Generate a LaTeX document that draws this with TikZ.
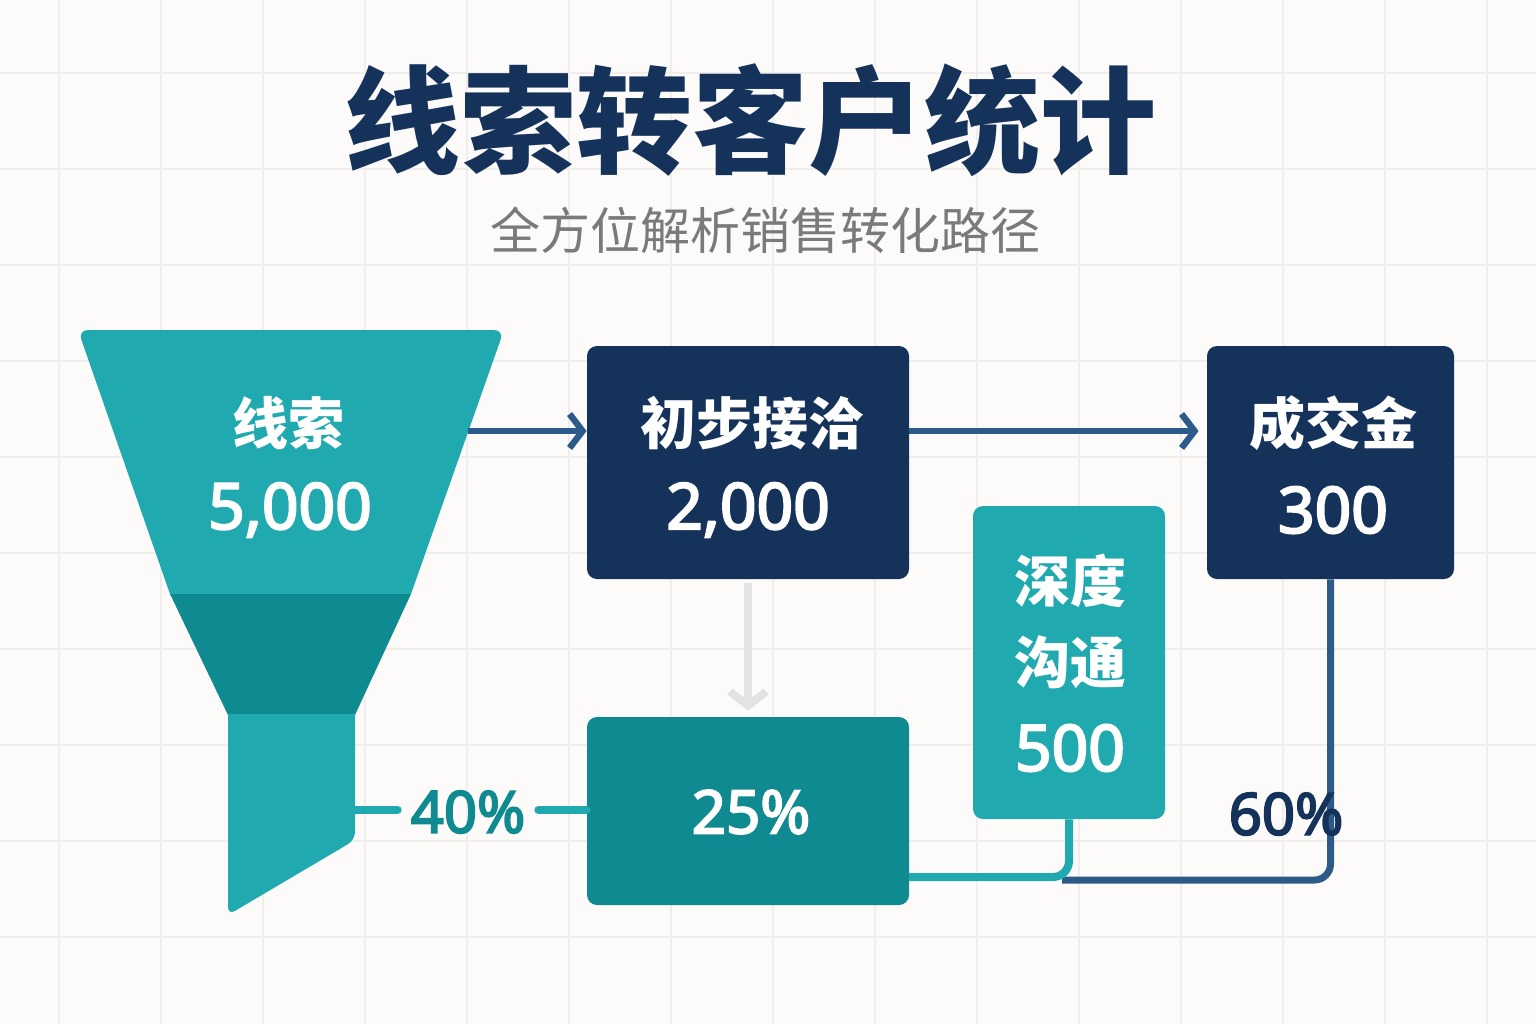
\documentclass[tikz,border=0pt]{standalone}
\usepackage{fontspec}
\newfontfamily\cjk{Noto Sans CJK SC}
\newfontfamily\numf{Noto Sans}[FakeBold=3.2]
\usetikzlibrary{arrows.meta}
\definecolor{bgc}{HTML}{FCFBF9}
\definecolor{gridc}{HTML}{EFEEEC}
\definecolor{teal}{HTML}{20A9AE}
\definecolor{tealdk}{HTML}{0E8A90}
\definecolor{navy}{HTML}{14325A}
\definecolor{arrblue}{HTML}{2B5A8B}
\definecolor{lineblue}{HTML}{2E5A88}
\definecolor{softgray}{HTML}{E3E3E3}
\definecolor{subgray}{HTML}{7A7A7A}
\begin{document}
\begin{tikzpicture}[x=0.5pt,y=-0.5pt,
  box/.style={rounded corners=5pt, inner sep=0pt},
  navybox/.style={box, fill=navy},
  cjklabel/.style={text=white, font=\cjk\bfseries\fontsize{28}{30}\selectfont},
  numlabel/.style={text=white, font=\numf\fontsize{32}{35}\selectfont},
  pctlabel/.style={font=\numf\fontsize{29}{32}\selectfont},
  flowarrow/.style={draw=arrblue, line width=3.2pt, -{Straight Barb[length=6.5pt,width=17pt,line width=3.2pt]}},
  tealline/.style={draw=teal, line width=4pt},
]
\useasboundingbox (0,0) rectangle (1536,1024);
\fill[bgc] (0,0) rectangle (1536,1024);
% grid
\foreach \gx in {59,161,263,365,467,569,671,773,875,977,1079,1181,1283,1385,1487}
  \draw[gridc, line width=1pt] (\gx,0) -- (\gx,1024);
\foreach \gy in {73,169,265,361,457,553,649,745,841,937}
  \draw[gridc, line width=1pt] (0,\gy) -- (1536,\gy);

% title
\node[text=navy, font=\cjk\bfseries\fontsize{58}{62}\selectfont] (title) at (750,120) {线索转客户统计};
\node[text=subgray, font=\cjk\fontsize{25}{28}\selectfont] (subtitle) at (765,230) {全方位解析销售转化路径};

% funnel
\fill[teal] (170,594) [rounded corners=5pt] -- (78,330) -- (504,330) [sharp corners] -- (411,594) -- cycle;
\fill[tealdk] (170,594) -- (411,594) -- (355,715) -- (228,715) -- cycle;
\fill[teal] (228,714) -- (355,714) [rounded corners=4pt] -- (355,840) -- (228,915) [sharp corners] -- cycle;
\coordinate (fR) at (468,431);
\coordinate (spoutR) at (355,810);
\node[cjklabel] (fun1) at (288,423) {线索};
\node[numlabel] (fun2) at (290,510) {5,000};

% boxes
\node[navybox, minimum width=161pt, minimum height=116.5pt] (b1) at (748,462.5) {};
\node[navybox, minimum width=123.5pt, minimum height=116.5pt] (b2) at (1330.5,462.5) {};
\node[box, fill=teal, minimum width=96pt, minimum height=156.5pt] (b3) at (1069,662.5) {};
\node[box, fill=tealdk, minimum width=161pt, minimum height=94pt] (b4) at (748,811) {};

\node[cjklabel] (b1t) at (752,423) {初步接洽};
\node[numlabel] (b1n) at (748,510) {2,000};
\node[cjklabel] (b2t) at (1333,423) {成交金};
\node[numlabel] (b2n) at (1333,510) {300};
\node[cjklabel] (b3t) at (1070,581) {深度};
\node[cjklabel] (b3u) at (1070,662) {沟通};
\node[numlabel] (b3n) at (1070,748) {500};
\node[pctlabel, text=white, font=\numf\fontsize{30}{33}\selectfont] (b4n) at (751,812) {25\%};

% arrows
\draw[flowarrow] (fR) -- (fR -| b1.west);
\draw[flowarrow, shorten >=4pt] (fR -| b1.east) -- (fR -| b2.west);
\draw[draw=softgray, line width=4pt, shorten <=2pt, shorten >=3pt,
  -{Straight Barb[length=7pt,width=18pt,line width=4pt]}] (b1.south) -- (b4.north);

% 40% link
\node[pctlabel, text=tealdk] (p40) at (468,812) {40\%};
\draw[tealline, line cap=round] (spoutR) -- ([xshift=-3pt]p40.west |- spoutR);
\draw[tealline, line cap=round] ([xshift=3pt]p40.east |- spoutR) -- (spoutR -| b4.west);

% bottom links
\coordinate (t1) at (909,877);
\coordinate (t2) at (1062,880);
\draw[draw=lineblue, line width=3.5pt, rounded corners=8pt] (t2) -- (t2 -| b2.south) -- (b2.south);
\draw[tealline, rounded corners=8pt] (t1) -- (t1 -| b3.south) -- (b3.south);
\node[pctlabel, text=navy] (p60) at (1286,814) {60\%};
\end{tikzpicture}
\end{document}
